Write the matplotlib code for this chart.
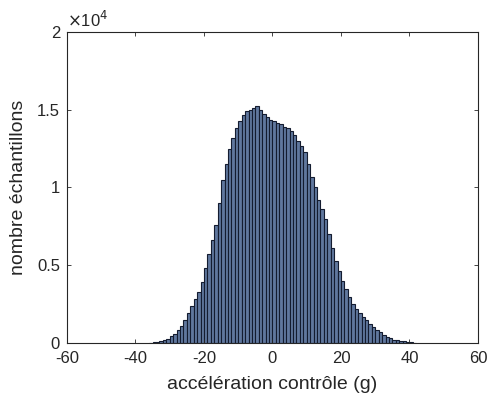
import numpy as np
import matplotlib
matplotlib.use("Agg")
import matplotlib.pyplot as plt
from matplotlib.ticker import FuncFormatter

# Histogram: bin edges (g) and bin heights (samples)
bin_edges = np.arange(-36, 43, 1)
counts = [
    0, 30, 70, 120, 180, 280, 430, 600, 820, 1100,
    1450, 1900, 2350, 2800, 3300, 3950, 4800, 5700, 6600, 7600,
    9000, 10500, 11500, 12500, 13200, 13800, 14300, 14650, 14900, 15000,
    15100, 15250, 15000, 14750, 14500, 14350, 14250, 14150, 14050, 13900,
    13800, 13600, 13400, 13000, 12650, 12300, 11500, 10700, 10000, 9200,
    8600, 8000, 7000, 6100, 5300, 4600, 4000, 3450, 2950, 2500,
    2200, 1950, 1700, 1450, 1250, 1050, 850, 680, 520, 400,
    300, 220, 170, 130, 100, 70, 30, 0,
]
x_ticks = [-60, -40, -20, 0, 20, 40, 60]
y_ticks = [0, 5000, 10000, 15000, 20000]
x_label = "accélération contrôle (g)"
y_label = "nombre échantillons"

plt.rcParams['font.family'] = ['Liberation Sans', 'DejaVu Sans']
plt.rcParams['axes.unicode_minus'] = False
fig = plt.figure(figsize=(4.89, 4.03), dpi=100)
ax = fig.add_axes([0.137, 0.149, 0.8405, 0.7717])

widths = np.diff(bin_edges)
ax.bar(bin_edges[:-1], counts, width=widths, align='edge',
       facecolor='#60779e', edgecolor='#141c30', linewidth=0.8)

ax.set_xlim(-60, 60)
ax.set_ylim(0, 20000)
ax.set_xticks(x_ticks)
ax.set_yticks(y_ticks)
ax.yaxis.set_major_formatter(FuncFormatter(lambda v, p: f"{v/1e4:g}"))
ax.tick_params(direction='in', top=True, right=True, length=3, width=0.6,
               labelsize=12, colors='#262626')
ax.tick_params(axis='x', pad=6)
ax.tick_params(axis='y', pad=5)
for s in ax.spines.values():
    s.set_linewidth(0.8)
    s.set_color('#262626')
ax.set_xlabel(x_label, fontsize=14, color='#262626', labelpad=7)
ax.set_ylabel(y_label, fontsize=14, color='#262626', labelpad=7)
ax.text(0.0, 1.005, r"$\times$10$^4$", transform=ax.transAxes, fontsize=12,
        color='#262626', ha='left', va='bottom')

fig.savefig("out.png", dpi=100)
